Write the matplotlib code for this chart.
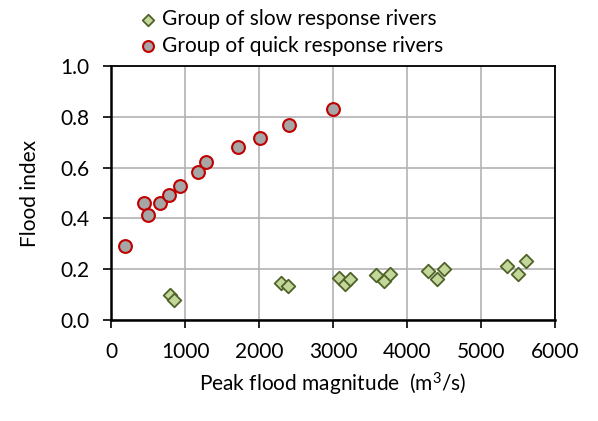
import matplotlib
matplotlib.use("Agg")
import matplotlib.pyplot as plt

# Data.
quick_x = [180, 448, 492, 658, 784, 927, 1169, 1281, 1720, 2007, 2401, 3001]
quick_y = [0.293, 0.462, 0.414, 0.460, 0.491, 0.529, 0.581, 0.622, 0.682, 0.718, 0.768, 0.832]

slow_x = [797, 851, 2289, 2397, 3081, 3157, 3228, 3582, 3686, 3763, 4281, 4402, 4496, 5347, 5495, 5608]
slow_y = [0.099, 0.080, 0.147, 0.134, 0.164, 0.143, 0.162, 0.176, 0.153, 0.180, 0.192, 0.163, 0.201, 0.212, 0.183, 0.234]

x_ticks = [0, 1000, 2000, 3000, 4000, 5000, 6000]
y_ticks = [0.0, 0.2, 0.4, 0.6, 0.8, 1.0]

plt.rcParams['font.family'] = ['Lato', 'DejaVu Sans']
plt.rcParams['font.size'] = 15
plt.rcParams['mathtext.fontset'] = 'custom'
plt.rcParams['mathtext.rm'] = 'Lato'
plt.rcParams['mathtext.default'] = 'rm'

fig = plt.figure(figsize=(5.98, 4.21), dpi=100)
ax = fig.add_axes([0.186, 0.240, 0.742, 0.603])

ax.scatter(slow_x, slow_y, marker="D", s=48, facecolor="#c4d79b", edgecolor="#4f6228",
           linewidth=1.3, zorder=3, label="Group of slow response rivers")
ax.scatter(quick_x, quick_y, marker="o", s=85, facecolor="#a6a6a6", edgecolor="#c00000",
           linewidth=1.5, zorder=3, label="Group of quick response rivers")

ax.set_xlim(0, 6000)
ax.set_ylim(0, 1.0)
ax.set_xticks(x_ticks)
ax.set_yticks(y_ticks)
ax.set_yticklabels([f"{v:.1f}" for v in y_ticks])
ax.grid(True, color="#b3b3b3", linewidth=1.2)
ax.set_axisbelow(True)
ax.tick_params(direction="out", length=6, width=1.2, color="black", pad=10)
for s in ax.spines.values():
    s.set_color("black")
    s.set_linewidth(1.3)
ax.spines["left"].set_linewidth(1.8)
ax.spines["bottom"].set_linewidth(1.8)

ax.set_xlabel("Peak flood magnitude  (m$^3$/s)", labelpad=6)
ax.set_ylabel("Flood index", labelpad=14)

ax.legend(loc="lower left", bbox_to_anchor=(0.035, 1.0), frameon=False,
          handletextpad=0.2, labelspacing=0.3, borderaxespad=0.1, handlelength=1.0,
          markerscale=0.85)

fig.savefig("out.png", dpi=100)
